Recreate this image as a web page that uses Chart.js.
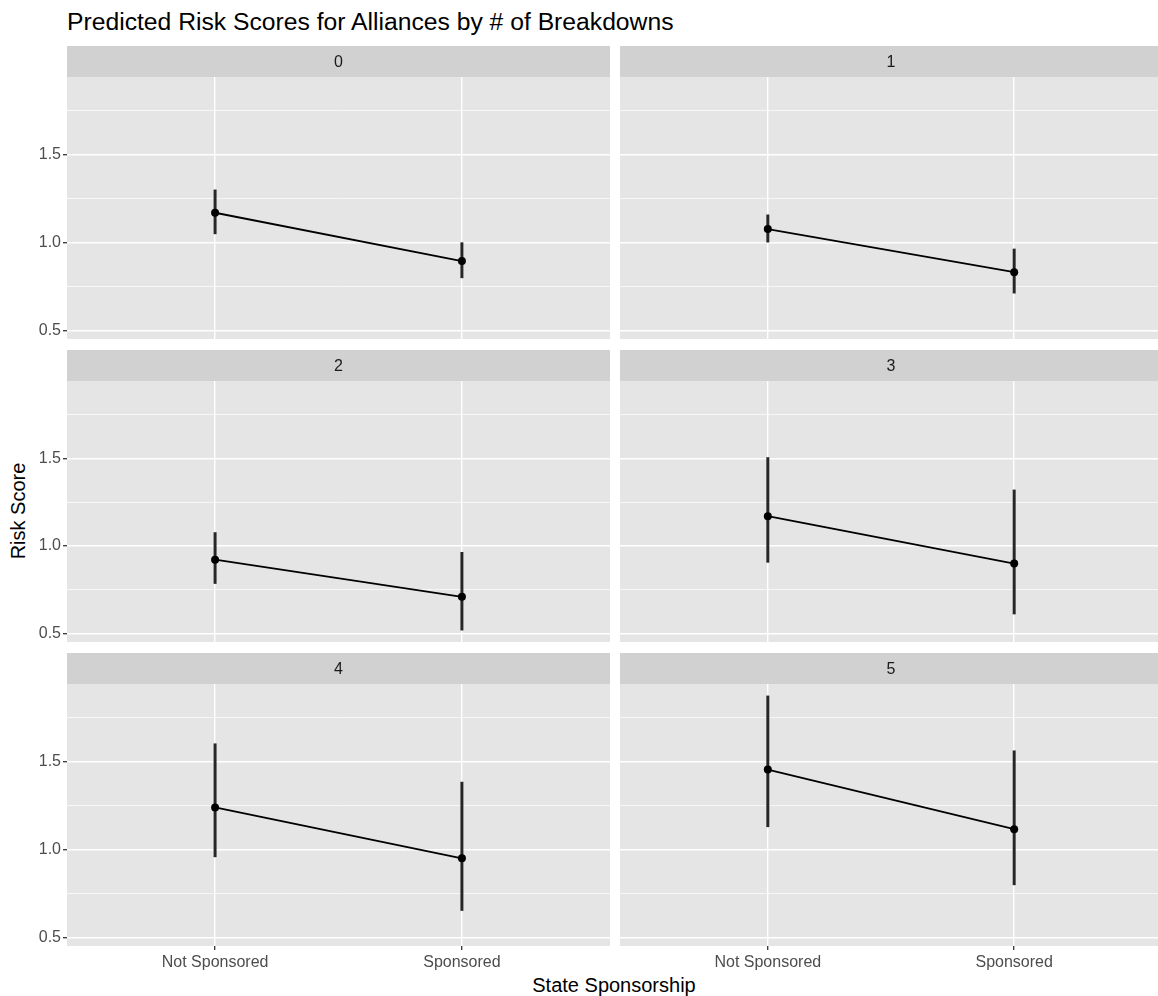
<!DOCTYPE html>
<html>
<head>
<meta charset="utf-8">
<script src="https://cdn.jsdelivr.net/npm/chart.js@4/dist/chart.umd.min.js"></script>
<style>
  html, body { margin:0; padding:0; width:1158px; height:996px; overflow:hidden; background:#fff; }
  body { position:relative; font-family:"Liberation Sans", Arial, sans-serif; }
  canvas { position:absolute; }
  #title { position:absolute; left:67px; top:10px; font-size:24.7px; line-height:1; color:#000; white-space:nowrap; }
  #ytitle { position:absolute; left:18px; top:511px; font-size:20px; line-height:1; color:#000; white-space:nowrap; transform:translate(-50%,-50%) rotate(-90deg); }
  #xtitle { position:absolute; left:614px; top:985px; font-size:20px; line-height:1; color:#000; white-space:nowrap; transform:translate(-50%,-50%); }
</style>
</head>
<body>
<div id="title">Predicted Risk Scores for Alliances by # of Breakdowns</div>
<div id="ytitle">Risk Score</div>
<div id="xtitle">State Sponsorship</div>
<script>
// ---- data ----
const categories = ['Not Sponsored', 'Sponsored'];
const facets = ['0', '1', '2', '3', '4', '5'];
const estimate0 = [1.17, 0.895];
const estimate1 = [1.077, 0.832];
const estimate2 = [0.922, 0.71];
const estimate3 = [1.17, 0.90];
const estimate4 = [1.24, 0.951];
const estimate5 = [1.455, 1.116];
const lower0 = [1.05, 0.80];
const lower1 = [1.003, 0.713];
const lower2 = [0.786, 0.52];
const lower3 = [0.907, 0.612];
const lower4 = [0.959, 0.654];
const lower5 = [1.13, 0.80];
const upper0 = [1.30, 1.00];
const upper1 = [1.158, 0.964];
const upper2 = [1.077, 0.964];
const upper3 = [1.505, 1.32];
const upper4 = [1.602, 1.384];
const upper5 = [1.874, 1.562];
const yMajorTicks = [0.5, 1.0, 1.5];
const yMinorTicks = [0.75, 1.25, 1.75];

const estimates = [estimate0, estimate1, estimate2, estimate3, estimate4, estimate5];
const lowers = [lower0, lower1, lower2, lower3, lower4, lower5];
const uppers = [upper0, upper1, upper2, upper3, upper4, upper5];

// shared y range (ggplot-style 5% expansion of the data range)
const allLo = Math.min(...lowers.flat());
const allHi = Math.max(...uppers.flat());
const span = allHi - allLo;
const yMin = allLo - 0.05 * span;
const yMax = allHi + 0.05 * span;

// ---- layout ----
const FONT = '"Liberation Sans", Arial, sans-serif';
const stripTops = [46, 350, 653];
const panelBottoms = [339, 642, 946];
const STRIP_H = 31;
const XAXIS_H = 30;

const facetPlugin = {
  id: 'facet',
  beforeDraw(chart, args, opts) {
    const { ctx, chartArea: a } = chart;
    ctx.save();
    ctx.fillStyle = '#E5E5E5';
    ctx.fillRect(a.left, a.top, a.right - a.left, a.bottom - a.top);
    ctx.fillStyle = '#D1D1D1';
    ctx.fillRect(a.left, 0, a.right - a.left, a.top);
    ctx.fillStyle = '#1A1A1A';
    ctx.font = '16px ' + FONT;
    ctx.textAlign = 'center';
    ctx.textBaseline = 'middle';
    ctx.fillText(opts.label, (a.left + a.right) / 2, a.top / 2 + 1);
    ctx.restore();
  }
};

facets.forEach((label, i) => {
  const col = i % 2, row = Math.floor(i / 2);
  const isLeft = col === 0, isBottom = row === 2;
  const left = isLeft ? 0 : 610;
  const width = isLeft ? 610 : 552;
  const top = stripTops[row];
  const height = panelBottoms[row] - top + (isBottom ? XAXIS_H : 0);

  const cv = document.createElement('canvas');
  cv.width = width; cv.height = height;
  cv.style.left = left + 'px'; cv.style.top = top + 'px';
  cv.style.width = width + 'px'; cv.style.height = height + 'px';
  document.body.appendChild(cv);

  const isMajor = v => yMajorTicks.some(m => Math.abs(m - v) < 1e-9);

  new Chart(cv, {
    type: 'line',
    data: {
      datasets: [
        {
          type: 'line',
          data: categories.map((c, k) => ({ x: k + 1, y: estimates[i][k] })),
          borderColor: '#000000',
          borderWidth: 1.8,
          pointRadius: 4,
          pointBackgroundColor: '#000000',
          pointBorderWidth: 0,
          pointHoverRadius: 4,
          tension: 0,
          order: 1
        },
        {
          type: 'bar',
          data: categories.map((c, k) => ({ x: k + 1, y: [lowers[i][k], uppers[i][k]] })),
          backgroundColor: '#262626',
          borderWidth: 0,
          barThickness: 2.3,
          order: 2
        }
      ]
    },
    options: {
      responsive: false,
      animation: false,
      events: [],
      layout: { autoPadding: false, padding: { top: STRIP_H, left: 0, right: 0, bottom: 0 } },
      plugins: {
        legend: { display: false },
        tooltip: { enabled: false },
        facet: { label: label }
      },
      scales: {
        x: {
          type: 'linear',
          offset: false,
          min: 1 - 0.6,
          max: categories.length + 0.6,
          afterBuildTicks: s => { s.ticks = categories.map((c, k) => ({ value: k + 1 })); },
          afterFit: s => {
            s.height = isBottom ? XAXIS_H : 0;
            s.paddingLeft = 0; s.paddingRight = 0;
          },
          ticks: {
            display: isBottom,
            autoSkip: false,
            maxRotation: 0,
            padding: 3,
            color: '#4D4D4D',
            font: { size: 16, family: FONT },
            callback: v => categories[Math.round(v) - 1] || ''
          },
          grid: {
            offset: false,
            color: '#FFFFFF',
            lineWidth: 1.4,
            drawTicks: isBottom,
            tickLength: 4,
            tickColor: '#333333',
            tickWidth: 1.3
          },
          border: { display: false }
        },
        y: {
          type: 'linear',
          min: yMin,
          max: yMax,
          afterBuildTicks: s => {
            s.ticks = [...yMajorTicks, ...yMinorTicks].sort((a, b) => a - b).map(v => ({ value: v }));
          },
          afterFit: s => {
            s.width = isLeft ? 67 : 10;
            s.paddingTop = 0; s.paddingBottom = 0;
          },
          ticks: {
            display: isLeft,
            autoSkip: false,
            padding: 2,
            color: '#4D4D4D',
            font: { size: 16, family: FONT },
            callback: v => isMajor(v) ? v.toFixed(1) : ''
          },
          grid: {
            color: '#FFFFFF',
            lineWidth: ctx => (ctx.tick && isMajor(ctx.tick.value)) ? 1.4 : 0.7,
            drawTicks: isLeft,
            tickLength: 4,
            tickColor: ctx => (ctx.tick && isMajor(ctx.tick.value)) ? '#333333' : 'rgba(0,0,0,0)',
            tickWidth: 1.3
          },
          border: { display: false }
        }
      }
    },
    plugins: [facetPlugin]
  });
});
</script>
</body>
</html>
